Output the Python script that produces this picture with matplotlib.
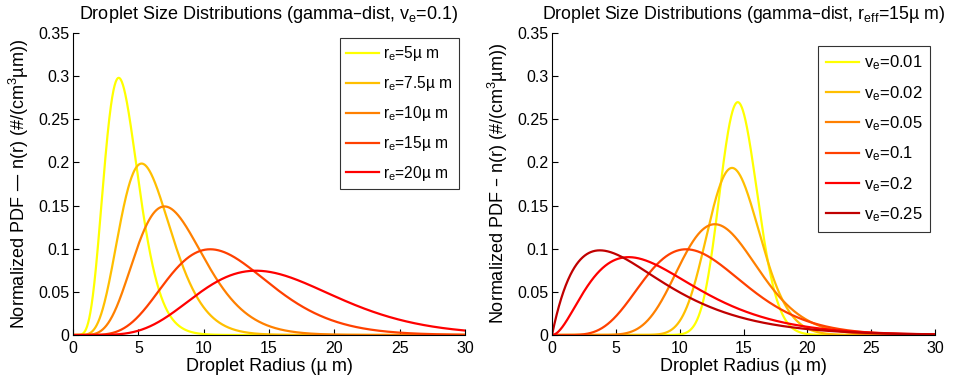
import math
import numpy as np
import matplotlib
matplotlib.use("Agg")
import matplotlib.pyplot as plt

plt.rcParams['font.family'] = ['Liberation Sans', 'DejaVu Sans']
plt.rcParams['mathtext.default'] = 'regular'

# left panel: fixed effective variance, varying effective radius
ve_fixed = 0.1
re_list = [5, 7.5, 10, 15, 20]
re_labels = ['5', '7.5', '10', '15', '20']
re_colors = ['#ffff00', '#ffbf00', '#ff8000', '#ff4000', '#ff0000']

# right panel: fixed effective radius, varying effective variance
re_fixed = 15
ve_list = [0.01, 0.02, 0.05, 0.1, 0.2, 0.25]
ve_labels = ['0.01', '0.02', '0.05', '0.1', '0.2', '0.25']
ve_colors = ['#ffff00', '#ffbf00', '#ff8000', '#ff4000', '#ff0000', '#c00000']

yticks = [0, 0.05, 0.1, 0.15, 0.2, 0.25, 0.3, 0.35]
ytick_labels = ['0', '0.05', '0.1', '0.15', '0.2', '0.25', '0.3', '0.35']

r = np.linspace(0, 30, 1500)


def gamma_dist(r, re, ve):
    # normalized gamma size distribution with shape 1/ve-2 and scale re*ve
    k = 1.0 / ve - 2.0
    th = re * ve
    out = np.zeros_like(r)
    m = r > 0
    out[m] = np.exp((k - 1) * np.log(r[m]) - r[m] / th - math.lgamma(k) - k * np.log(th))
    return out


fig = plt.figure(figsize=(9.59, 3.88), dpi=100)
ax1 = fig.add_axes([0.0761, 0.1366, 0.4088, 0.7784])
ax2 = fig.add_axes([0.5756, 0.1366, 0.3994, 0.7784])

for re, lab, c in zip(re_list, re_labels, re_colors):
    ax1.plot(r, gamma_dist(r, re, ve_fixed), color=c, lw=1.6,
             label='r$_{e}$=' + lab + 'µ m')

for ve, lab, c in zip(ve_list, ve_labels, ve_colors):
    ax2.plot(r, gamma_dist(r, re_fixed, ve), color=c, lw=1.6,
             label='v$_{e}$=' + lab)

ax1.set_title('Droplet Size Distributions (gamma–dist, v$_{e}$=0.1)',
              fontsize=13, pad=0, y=1.045)
ax2.set_title('Droplet Size Distributions (gamma–dist, r$_{eff}$=15µ m)',
              fontsize=12.8, pad=0, y=1.045)

ax1.set_ylabel('Normalized PDF — n(r) (#/(cm$^{3}$µm))', fontsize=13, labelpad=5)
ax2.set_ylabel('Normalized PDF – n(r) (#/(cm$^{3}$µm))', fontsize=13, labelpad=5)

for ax in (ax1, ax2):
    ax.set_xlim(0, 30)
    ax.set_ylim(0, 0.35)
    ax.set_xticks([0, 5, 10, 15, 20, 25, 30])
    ax.set_yticks(yticks)
    ax.set_yticklabels(ytick_labels)
    ax.spines['top'].set_visible(False)
    ax.spines['right'].set_visible(False)
    ax.tick_params(direction='in', length=4, labelsize=11.5)
    ax.tick_params(axis='x', pad=4)
    ax.tick_params(axis='y', pad=2.5)
    ax.set_xlabel('Droplet Radius (µ m)', fontsize=13, labelpad=2)

leg1 = ax1.legend(loc='upper right', bbox_to_anchor=(0.985, 0.983), borderaxespad=0,
                  fancybox=False, edgecolor='black', handlelength=2.1,
                  handletextpad=0.3, labelspacing=0.7, fontsize=11.2, borderpad=0.4)
leg1.get_frame().set_linewidth(0.8)
leg2 = ax2.legend(loc='upper right', bbox_to_anchor=(0.987, 0.957), borderaxespad=0,
                  fancybox=False, edgecolor='black', handlelength=2.0,
                  handletextpad=0.3, labelspacing=0.7, fontsize=12, borderpad=0.45)
leg2.get_frame().set_linewidth(0.8)

fig.savefig('out.png', dpi=100)
